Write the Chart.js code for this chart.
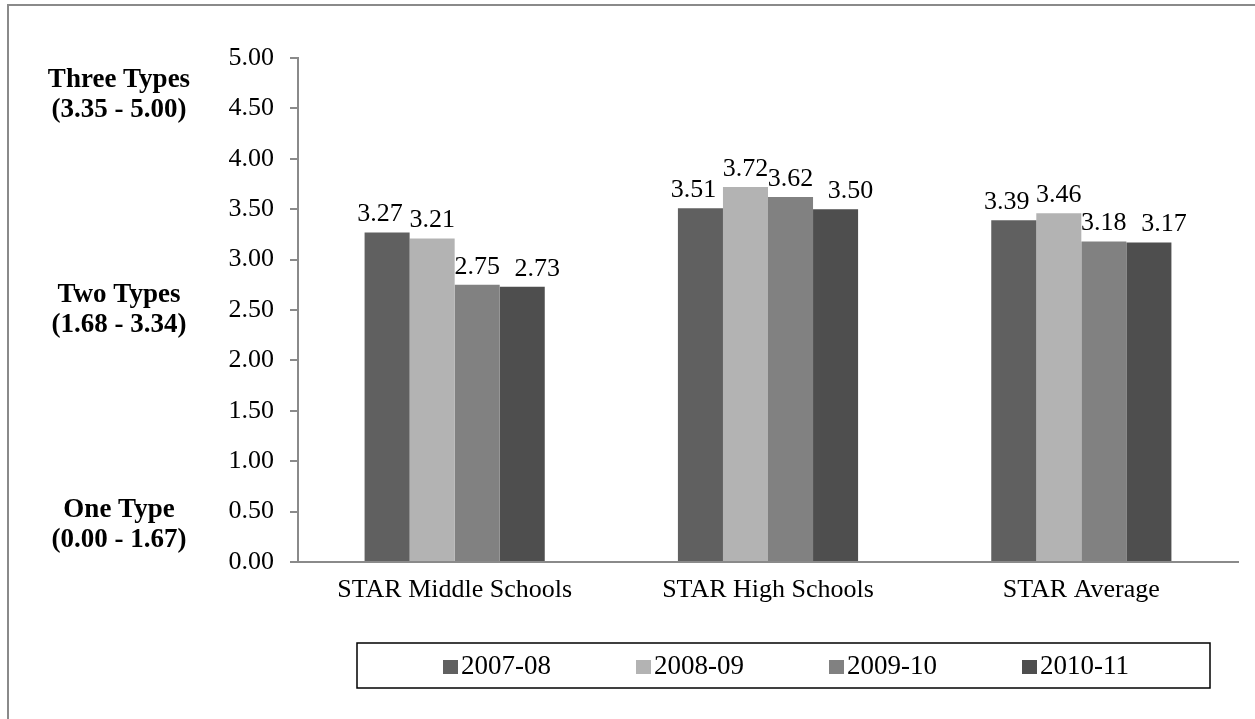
<!DOCTYPE html>
<html>
<head>
<meta charset="utf-8">
<script src="https://cdn.jsdelivr.net/npm/chart.js@4/dist/chart.umd.min.js"></script>
<style>
  html, body { margin: 0; padding: 0; background: #ffffff; }
  #wrap { width: 1255px; height: 719px; position: relative; }
</style>
</head>
<body>
<div id="wrap"><canvas id="c" width="1255" height="719"></canvas></div>
<script>
const categories = ['STAR Middle Schools', 'STAR High Schools', 'STAR Average'];
const seriesNames = ['2007-08', '2008-09', '2009-10', '2010-11'];
const values2007 = [3.27, 3.51, 3.39];
const values2008 = [3.21, 3.72, 3.46];
const values2009 = [2.75, 3.62, 3.18];
const values2010 = [2.73, 3.50, 3.17];
const seriesColors = ['#606060', '#b3b3b3', '#818181', '#4e4e4e'];
const yMin = 0, yMax = 5, yStep = 0.5;
const bandTitles = ['Three Types', 'Two Types', 'One Type'];
const bandRanges = ['(3.35 - 5.00)', '(1.68 - 3.34)', '(0.00 - 1.67)'];
const bandAnchors = [4.63, 2.50, 0.37];

const FONT = "'Liberation Serif', 'Times New Roman', serif";
const labelShift = [-7, 0, 0, 15];

const extrasPlugin = {
  id: 'extras',
  afterDatasetsDraw(chart) {
    const ctx = chart.ctx;
    ctx.save();
    ctx.font = '26px ' + FONT;
    ctx.fillStyle = '#000';
    ctx.textAlign = 'center';
    ctx.textBaseline = 'alphabetic';
    chart.data.datasets.forEach((ds, i) => {
      const meta = chart.getDatasetMeta(i);
      meta.data.forEach((bar, j) => {
        ctx.fillText(ds.data[j].toFixed(2), bar.x + labelShift[i], bar.y - 11);
      });
    });
    ctx.restore();
  },
  afterDraw(chart) {
    const ctx = chart.ctx;
    const y = chart.scales.y;
    ctx.save();
    // outer frame (top and left visible)
    ctx.strokeStyle = '#8a8a8a';
    ctx.lineWidth = 2;
    ctx.beginPath();
    ctx.moveTo(8, 719);
    ctx.lineTo(8, 5);
    ctx.lineTo(1255, 5);
    ctx.stroke();

    // band annotations on the left
    ctx.fillStyle = '#000';
    ctx.font = 'bold 27px ' + FONT;
    ctx.textAlign = 'center';
    ctx.textBaseline = 'middle';
    bandTitles.forEach((t, i) => {
      const py = y.getPixelForValue(bandAnchors[i]);
      ctx.fillText(t, 119, py - 15);
      ctx.fillText(bandRanges[i], 119, py + 15);
    });

    // legend
    const boxL = 357, boxT = 643, boxR = 1210, boxB = 688;
    ctx.strokeStyle = '#000';
    ctx.lineWidth = 1.5;
    ctx.strokeRect(boxL, boxT, boxR - boxL, boxB - boxT);
    ctx.font = '27px ' + FONT;
    ctx.textAlign = 'left';
    ctx.textBaseline = 'middle';
    const startX = 443, stepX = 193, cy = 667;
    chart.data.datasets.forEach((ds, i) => {
      const x = startX + i * stepX;
      ctx.fillStyle = ds.backgroundColor;
      ctx.fillRect(x, cy - 7, 15, 14);
      ctx.fillStyle = '#000';
      ctx.fillText(ds.label, x + 18, cy);
    });
    ctx.restore();
  }
};

const seriesValues = [values2007, values2008, values2009, values2010];

new Chart(document.getElementById('c'), {
  type: 'bar',
  data: {
    labels: categories,
    datasets: seriesNames.map((n, i) => ({
      label: n,
      data: seriesValues[i],
      backgroundColor: seriesColors[i],
      borderWidth: 0,
      categoryPercentage: 0.575,
      barPercentage: 1.0
    }))
  },
  options: {
    responsive: false,
    animation: false,
    devicePixelRatio: 1,
    layout: { padding: { top: 58, right: 17, left: 0, bottom: 113 } },
    plugins: {
      legend: { display: false },
      tooltip: { enabled: false },
      title: { display: false }
    },
    scales: {
      x: {
        grid: { display: false, drawTicks: false },
        border: { display: true, color: '#8a8a8a', width: 2 },
        ticks: { color: '#000', font: { family: FONT, size: 26 }, padding: 13 },
        afterFit(scale) { scale.height = 44; }
      },
      y: {
        min: yMin, max: yMax,
        grid: { display: true, drawOnChartArea: false, drawTicks: true, tickLength: 8, color: '#8a8a8a', lineWidth: 2 },
        border: { display: true, color: '#8a8a8a', width: 2 },
        ticks: {
          stepSize: yStep, color: '#000', padding: 16,
          font: { family: FONT, size: 26 },
          callback: v => Number(v).toFixed(2)
        },
        afterFit(scale) { scale.width = 298; }
      }
    }
  },
  plugins: [extrasPlugin]
});
</script>
</body>
</html>
